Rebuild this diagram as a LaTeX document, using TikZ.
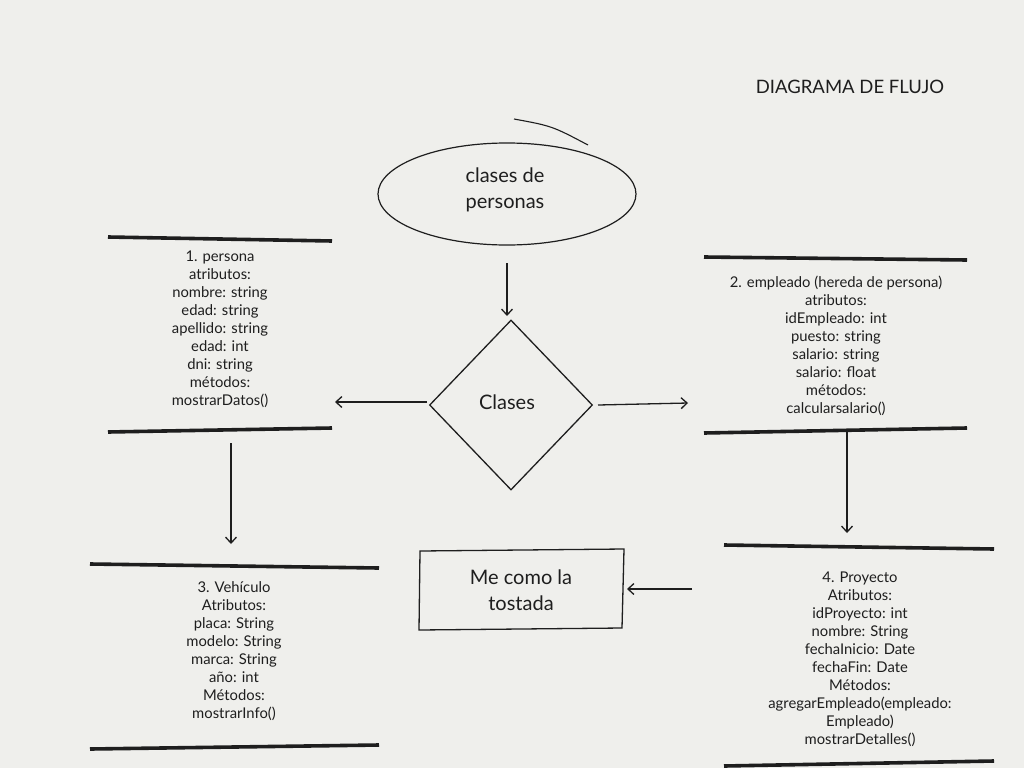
\documentclass[tikz,border=0pt]{standalone}
\usepackage{fontspec}
\setmainfont{Lato}
\usetikzlibrary{arrows.meta,shapes.geometric}
\definecolor{paper}{HTML}{EFEFEC}
\definecolor{ink}{HTML}{1E1E1E}
\tikzset{
  bar/.style={ink, line width=3.6pt},
  conn/.style={ink, line width=1.3pt, -{Straight Barb[length=6pt,width=11pt,line width=1.3pt]}},
  small/.style={text=ink, align=center, inner sep=0pt, font=\fontsize{14.8}{18}\selectfont},
  big/.style={text=ink, align=center, inner sep=0pt, font=\fontsize{20}{26}\selectfont},
}
\begin{document}
\begin{tikzpicture}[x=1pt,y=-1pt]
\fill[paper] (0,0) rectangle (1024,768);
\useasboundingbox (0,0) rectangle (1024,768);

% title
\node[text=ink, inner sep=0pt, font=\fontsize{18.5}{20}\selectfont] (title) at (850,87) {DIAGRAMA DE FLUJO};

% ellipse
\node[draw=ink, line width=1.2pt, ellipse, minimum width=258pt, minimum height=102pt, inner sep=0pt] (ell) at (507,194) {};
\node[big] (elltext) at (505,190) {clases de\\personas};
\draw[ink, line width=1.1pt] (514,119) .. controls (552,126) .. (588,145);

% diamond
\node[draw=ink, line width=1.3pt, diamond, minimum width=163pt, minimum height=170pt, inner sep=0pt] (dia) at (511,405) {};
\node[big] (diatext) at (507,402) {Clases};

% box 1
\draw[bar] (108,237) -- (332,241);
\draw[bar] (108,432) -- (332,428);
\node[small] (p1) at (220,329) {1. persona\\atributos:\\nombre: string\\edad: string\\apellido: string\\edad: int\\dni: string\\métodos:\\mostrarDatos()};

% box 2
\draw[bar] (704,257) -- (967,260);
\draw[bar] (704,433) -- (967,428);
\node[small] (p2) at (836,346) {2. empleado (hereda de persona)\\atributos:\\idEmpleado: int\\puesto: string\\salario: string\\salario: float\\métodos:\\calcularsalario()};

% box 3
\draw[bar] (90,564) -- (379,568);
\draw[bar] (90,749) -- (379,745);
\node[small] (p3) at (234,651) {3. Vehículo\\Atributos:\\placa: String\\modelo: String\\marca: String\\año: int\\Métodos:\\mostrarInfo()};

% box 4
\draw[bar] (724,545) -- (994,549);
\draw[bar] (724,766) -- (994,761);
\node[small] (p4) at (860,659) {4. Proyecto\\Atributos:\\idProyecto: int\\nombre: String\\fechaInicio: Date\\fechaFin: Date\\Métodos:\\agregarEmpleado(empleado:\\Empleado)\\mostrarDetalles()};

% rectangle
\draw[ink, line width=1.3pt] (420,551) -- (624,549) -- (622,628) -- (419,630) -- cycle;
\node[big] (toast) at (521,590) {Me como la\\tostada};

% connector coordinates
\coordinate (c0s) at (507,263);
\coordinate (c0e) at (507,316);
\coordinate (c1s) at (427,402);
\coordinate (c1e) at (335,402);
\coordinate (c2s) at (598,405);
\coordinate (c2e) at (688,403);
\coordinate (c3s) at (231,443);
\coordinate (c3e) at (231,544);
\coordinate (c4s) at (847,432);
\coordinate (c4e) at (847,533);
\coordinate (c5s) at (692,589);
\coordinate (c5e) at (627,589);

\draw[conn] (c0s) -- (c0e);
\draw[conn] (c1s) -- (c1e);
\draw[conn] (c2s) -- (c2e);
\draw[conn] (c3s) -- (c3e);
\draw[conn] (c4s) -- (c4e);
\draw[conn] (c5s) -- (c5e);
\end{tikzpicture}
\end{document}
